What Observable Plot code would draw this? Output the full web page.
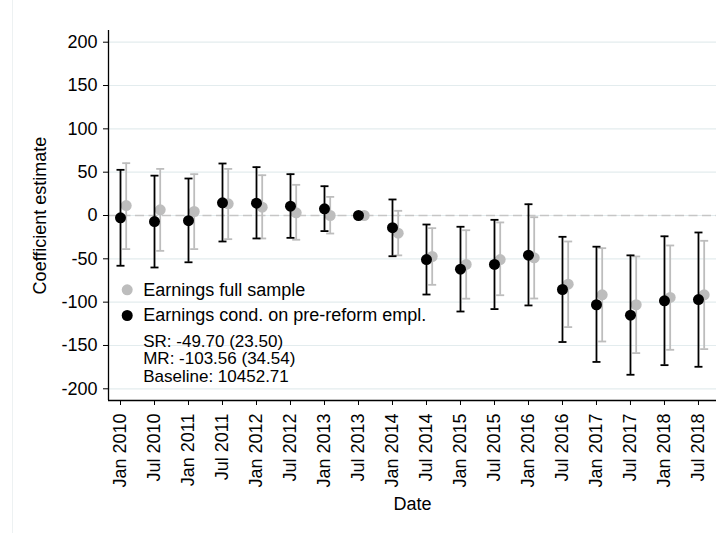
<!DOCTYPE html>
<html><head><meta charset="utf-8">
<script src="https://cdn.jsdelivr.net/npm/d3@7"></script>
<script src="https://cdn.jsdelivr.net/npm/@observablehq/plot@0.6"></script>
<style>
body{margin:0;background:#fff;}
#wrap{position:relative;width:721px;height:533px;overflow:hidden;}
#edge{position:absolute;left:12px;top:0;width:1px;height:533px;background:#edf1f2;}
</style></head><body>
<div id="wrap"><div id="edge"></div></div>
<script>
const labels = ["Jan 2010","Jul 2010","Jan 2011","Jul 2011","Jan 2012","Jul 2012","Jan 2013","Jul 2013","Jan 2014","Jul 2014","Jan 2015","Jul 2015","Jan 2016","Jul 2016","Jan 2017","Jul 2017","Jan 2018","Jul 2018"];

// Earnings full sample (grey)
const fullEst = [11.5, 6.5, 4.6, 13.5, 9.6, 3.1, 0, 0, -20.4, -47.3, -56.5, -50.8, -48.8, -79.2, -91.5, -103, -94.6, -91.5];
const fullLo  = [-38.8, -40.8, -38.8, -27.3, -26.5, -28, -20.8, null, -46, -80, -96, -92, -95.8, -128.8, -145.4, -158.8, -155, -154.2];
const fullHi  = [60.4, 53.8, 47.7, 53.8, 46.5, 35.4, 21.5, null, 5.4, -14.6, -17, -8, -2, -30, -37.7, -47.3, -34.6, -29.2];

// Earnings cond. on pre-reform empl. (black)
const condEst = [-2.7, -7, -6, 14.6, 14.2, 10.8, 7.7, 0, -14, -50.8, -62, -56.5, -45.8, -85.4, -103, -115, -98.5, -97];
const condLo  = [-58, -60, -54, -30, -26.5, -25.8, -18, null, -47, -91.2, -110.8, -108, -103.8, -146, -169, -183.8, -172.7, -174.6];
const condHi  = [52.7, 46, 42.7, 60, 55.8, 47.7, 33.8, null, 18.5, -10.4, -13, -5, 13, -24.6, -36, -46, -24, -19.6];

const yTicks = [-200, -150, -100, -50, 0, 50, 100, 150, 200];
const xDomain = [-0.353, 17.53];
const yDomain = [-213.5, 213.5];

const legendLabels = ["Earnings full sample", "Earnings cond. on pre-reform empl."];
const noteLines = ["SR: -49.70 (23.50)", "MR: -103.56 (34.54)", "Baseline: 10452.71"];

const GREY = "#bdbdbd";
const BLACK = "#000000";
const FONT = "'Liberation Sans', Arial, Helvetica, sans-serif";
const FS = 18;

const idx = labels.map((_, i) => i);
const full = idx.map(i => ({x: i, est: fullEst[i], lo: fullLo[i], hi: fullHi[i]}));
const cond = idx.map(i => ({x: i, est: condEst[i], lo: condLo[i], hi: condHi[i]}));
const fullCI = full.filter(d => d.lo != null);
const condCI = cond.filter(d => d.lo != null);

const cap = {draw(ctx, size) { const w = Math.sqrt(size / Math.PI); ctx.moveTo(-w, 0); ctx.lineTo(w, 0); }};
const GDX = 5.7;
const noteDy = [-59, -41.5, -24];

const chart = Plot.plot({
  width: 721,
  height: 533,
  marginLeft: 108,
  marginRight: 5,
  marginTop: 30,
  marginBottom: 133,
  style: {fontFamily: FONT, fontSize: FS + "px", background: "#fff", color: "#000"},
  x: {type: "linear", domain: xDomain},
  y: {domain: yDomain},
  marks: [
    Plot.gridY(yTicks, {stroke: "#e3ecee", strokeOpacity: 1, strokeWidth: 1.2}),
    Plot.ruleY([0], {stroke: "#c6c6c6", strokeWidth: 1.6, strokeDasharray: "9,4.5"}),
    // grey series
    Plot.ruleX(fullCI, {x: "x", y1: "lo", y2: "hi", stroke: GREY, strokeWidth: 1.8, dx: GDX}),
    Plot.dot(fullCI, {x: "x", y: "hi", symbol: cap, r: 4, stroke: GREY, fill: "none", strokeWidth: 1.8, dx: GDX}),
    Plot.dot(fullCI, {x: "x", y: "lo", symbol: cap, r: 4, stroke: GREY, fill: "none", strokeWidth: 1.8, dx: GDX}),
    Plot.dot(full, {x: "x", y: "est", r: 5.5, fill: GREY, dx: GDX}),
    // black series
    Plot.ruleX(condCI, {x: "x", y1: "lo", y2: "hi", stroke: BLACK, strokeWidth: 1.8}),
    Plot.dot(condCI, {x: "x", y: "hi", symbol: cap, r: 4, stroke: BLACK, fill: "none", strokeWidth: 1.8}),
    Plot.dot(condCI, {x: "x", y: "lo", symbol: cap, r: 4, stroke: BLACK, fill: "none", strokeWidth: 1.8}),
    Plot.dot(cond, {x: "x", y: "est", r: 5.5, fill: BLACK}),
    // axes
    Plot.axisY(yTicks, {tickSize: 5, tickPadding: 6, label: null, fontSize: FS, tickFormat: d => String(d)}),
    Plot.axisX(idx, {tickSize: 5, tickPadding: 8, tickRotate: -90, tickFormat: i => labels[i], label: null, fontSize: FS}),
    Plot.ruleX([xDomain[0]], {stroke: BLACK, strokeWidth: 1.3}),
    Plot.ruleY([yDomain[0]], {stroke: BLACK, strokeWidth: 1.3}),
    // axis titles
    Plot.text(["Coefficient estimate"], {frameAnchor: "left", text: d => d, rotate: -90, textAnchor: "middle", lineAnchor: "middle", dx: -68, fontSize: FS, fill: BLACK}),
    Plot.text(["Date"], {frameAnchor: "bottom", text: d => d, textAnchor: "middle", lineAnchor: "middle", dy: 104, fontSize: FS, fill: BLACK}),
    // legend
    Plot.dot([legendLabels[0]], {frameAnchor: "bottom-left", dx: 18.7, dy: -110.7, r: 5.5, fill: GREY}),
    Plot.dot([legendLabels[1]], {frameAnchor: "bottom-left", dx: 18.7, dy: -85, r: 5.5, fill: BLACK}),
    Plot.text([legendLabels[0]], {frameAnchor: "bottom-left", text: d => d, textAnchor: "start", lineAnchor: "middle", dx: 34.7, dy: -110, fontSize: FS, fill: BLACK}),
    Plot.text([legendLabels[1]], {frameAnchor: "bottom-left", text: d => d, textAnchor: "start", lineAnchor: "middle", dx: 34.7, dy: -84.8, fontSize: FS, fill: BLACK}),
    ...noteLines.map((t, i) => Plot.text([t], {frameAnchor: "bottom-left", text: d => d, textAnchor: "start", lineAnchor: "middle", dx: 34.7, dy: noteDy[i], fontSize: 17, fill: BLACK}))
  ]
});
document.getElementById("wrap").appendChild(chart);
</script>
</body></html>
